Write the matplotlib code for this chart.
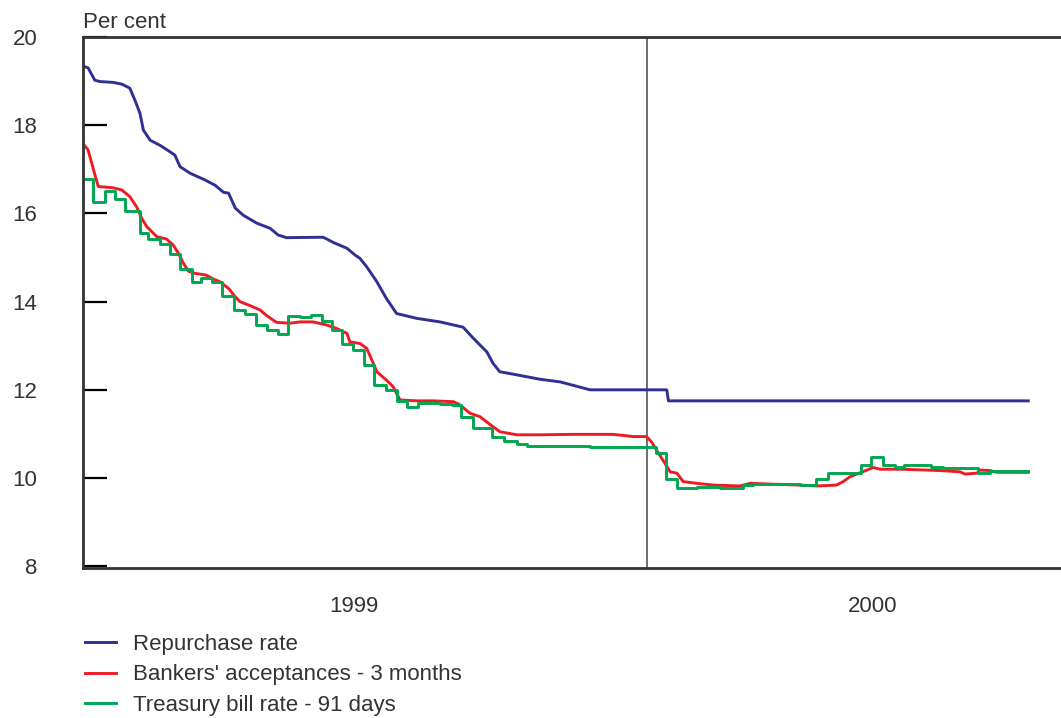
import matplotlib
matplotlib.use("Agg")
import matplotlib.pyplot as plt

plt.rcParams['font.family'] = ['Liberation Sans', 'DejaVu Sans']

# x positions in fractional years
repo_x = [1999.002, 1999.009, 1999.021, 1999.030, 1999.054, 1999.069, 1999.083, 1999.092,
          1999.101, 1999.107, 1999.119, 1999.137, 1999.154, 1999.163, 1999.172, 1999.190,
          1999.216, 1999.234, 1999.249, 1999.258, 1999.270, 1999.284, 1999.308, 1999.332,
          1999.346, 1999.361, 1999.426, 1999.444, 1999.468, 1999.482, 1999.491, 1999.503,
          1999.521, 1999.538, 1999.556, 1999.592, 1999.633, 1999.674, 1999.692, 1999.716,
          1999.727, 1999.739, 1999.769, 1999.810, 1999.846, 1999.899, 2000.035, 2000.038,
          2000.676]
repo_y = [19.33, 19.30, 19.02, 18.99, 18.97, 18.93, 18.84, 18.57,
          18.27, 17.89, 17.66, 17.54, 17.40, 17.32, 17.06, 16.91,
          16.76, 16.64, 16.48, 16.46, 16.12, 15.96, 15.78, 15.66,
          15.51, 15.45, 15.46, 15.34, 15.21, 15.06, 14.98, 14.79,
          14.45, 14.07, 13.73, 13.62, 13.54, 13.42, 13.17, 12.86,
          12.60, 12.41, 12.34, 12.24, 12.18, 12.00, 12.00, 11.75,
          11.75]

ba_x = [1999.002, 1999.009, 1999.018, 1999.027, 1999.054, 1999.069, 1999.083, 1999.095,
        1999.104, 1999.113, 1999.131, 1999.148, 1999.160, 1999.169, 1999.178, 1999.187,
        1999.199, 1999.219, 1999.231, 1999.243, 1999.258, 1999.270, 1999.278, 1999.296,
        1999.314, 1999.326, 1999.343, 1999.367, 1999.385, 1999.408, 1999.432, 1999.450,
        1999.468, 1999.473, 1999.491, 1999.503, 1999.512, 1999.521, 1999.538, 1999.550,
        1999.562, 1999.592, 1999.621, 1999.657, 1999.668, 1999.686, 1999.704, 1999.719,
        1999.739, 1999.769, 1999.810, 1999.869, 1999.940, 1999.976, 1999.999, 2000.008,
        2000.017, 2000.032, 2000.041, 2000.053, 2000.064, 2000.088, 2000.118, 2000.165,
        2000.183, 2000.224, 2000.271, 2000.301, 2000.336, 2000.348, 2000.360, 2000.378,
        2000.390, 2000.401, 2000.413, 2000.449, 2000.520, 2000.555, 2000.564, 2000.585,
        2000.590, 2000.608, 2000.620, 2000.676]
ba_y = [17.55, 17.44, 17.02, 16.61, 16.58, 16.53, 16.38, 16.15,
        15.89, 15.70, 15.47, 15.42, 15.28, 15.10, 14.87, 14.69,
        14.64, 14.60, 14.51, 14.45, 14.30, 14.11, 14.00, 13.91,
        13.81, 13.68, 13.53, 13.51, 13.54, 13.54, 13.47, 13.39,
        13.28, 13.09, 13.05, 12.94, 12.68, 12.41, 12.22, 12.07,
        11.77, 11.75, 11.75, 11.73, 11.66, 11.47, 11.39, 11.24,
        11.05, 10.98, 10.98, 10.99, 10.99, 10.94, 10.94, 10.82,
        10.63, 10.33, 10.14, 10.11, 9.92, 9.88, 9.84, 9.82,
        9.88, 9.86, 9.84, 9.82, 9.84, 9.92, 10.03, 10.12,
        10.18, 10.24, 10.20, 10.20, 10.17, 10.14, 10.09, 10.11,
        10.18, 10.17, 10.13, 10.13]

tb_x = [1999.002, 1999.018, 1999.039, 1999.057, 1999.074, 1999.101, 1999.116, 1999.137,
        1999.154, 1999.172, 1999.193, 1999.210, 1999.228, 1999.246, 1999.268, 1999.287,
        1999.307, 1999.327, 1999.346, 1999.364, 1999.385, 1999.404, 1999.423, 1999.441,
        1999.460, 1999.479, 1999.498, 1999.516, 1999.537, 1999.556, 1999.575, 1999.594,
        1999.633, 1999.654, 1999.671, 1999.691, 1999.725, 1999.746, 1999.769, 1999.787,
        1999.899, 1999.976, 2000.016, 2000.034, 2000.053, 2000.088, 2000.129, 2000.171,
        2000.188, 2000.271, 2000.300, 2000.321, 2000.380, 2000.398, 2000.418, 2000.440,
        2000.455, 2000.504, 2000.525, 2000.587, 2000.608, 2000.676]
tb_y = [16.78, 16.27, 16.51, 16.33, 16.05, 15.56, 15.42, 15.31,
        15.08, 14.74, 14.45, 14.53, 14.45, 14.13, 13.81, 13.71,
        13.47, 13.36, 13.26, 13.68, 13.64, 13.70, 13.56, 13.36,
        13.05, 12.90, 12.56, 12.11, 12.00, 11.75, 11.62, 11.71,
        11.68, 11.66, 11.38, 11.13, 10.94, 10.85, 10.77, 10.73,
        10.70, 10.71, 10.56, 9.97, 9.77, 9.79, 9.77, 9.84,
        9.87, 9.84, 9.97, 10.12, 10.29, 10.47, 10.29, 10.24,
        10.29, 10.26, 10.23, 10.12, 10.16, 10.15]

series_labels = ["Repurchase rate", "Bankers' acceptances - 3 months", "Treasury bill rate - 91 days"]
year_labels = ["1999", "2000"]
year_label_pos = [1999.48, 2000.40]
year_boundary = 2000.0
y_ticks = [8, 10, 12, 14, 16, 18, 20]

TXT = '#333333'
FS = 16

fig = plt.figure(figsize=(10.61, 7.18), dpi=100)
ax = fig.add_axes([83/1061, 1 - 568/718, 1 - 83/1061, (568 - 37)/718])

l1, = ax.plot(repo_x, repo_y, color='#2E3192', lw=2.1, solid_joinstyle='round')
l2, = ax.plot(ba_x, ba_y, color='#ED1C24', lw=2.1, solid_joinstyle='round')
l3, = ax.plot(tb_x, tb_y, color='#00A650', lw=2.1, drawstyle='steps-post')

ax.axvline(year_boundary, color='#555555', lw=1.2, zorder=1)

ax.set_xlim(1999.0, 2000.734)
ax.set_ylim(7.96, 20.0)

for s in ['left', 'bottom', 'top']:
    ax.spines[s].set_color('#333333')
    ax.spines[s].set_linewidth(2.0)
ax.spines['right'].set_visible(False)

ax.set_yticks(y_ticks)
ax.set_yticklabels([str(v) for v in y_ticks])
ax.tick_params(axis='y', direction='in', length=17, width=1.6, color='black',
               pad=33, labelsize=FS, labelcolor=TXT)

ax.set_xticks(year_label_pos)
ax.set_xticklabels(year_labels)
ax.tick_params(axis='x', length=0, pad=20, labelsize=FS, labelcolor=TXT)

fig.text(83/1061, 1 - 28/718, 'Per cent', fontsize=FS, color=TXT, ha='left', va='baseline')

fig.legend([l1, l2, l3], series_labels, loc='upper left',
           bbox_to_anchor=(85/1061, 1 - 634/718), bbox_transform=fig.transFigure,
           frameon=False, fontsize=FS, handlelength=1.4, handletextpad=0.75,
           labelspacing=0.42, borderpad=0, borderaxespad=0, labelcolor=TXT)

fig.savefig('out.png', dpi=100)
